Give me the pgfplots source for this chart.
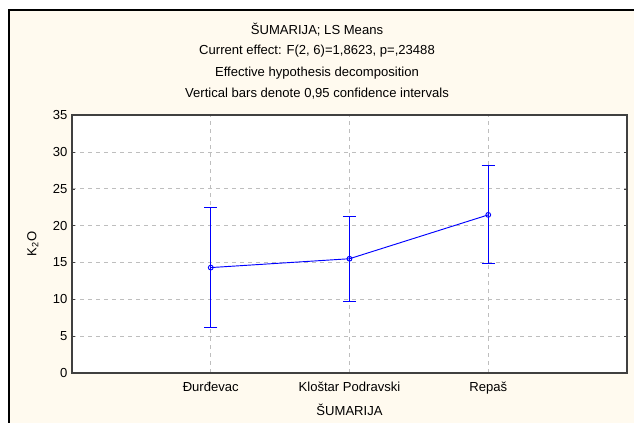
\documentclass[border=0pt]{standalone}
\usepackage{fontspec}
\setmainfont{Liberation Sans}
\usepackage{pgfplots}
\pgfplotsset{compat=1.18}
\definecolor{bgcream}{RGB}{255,250,239}
\definecolor{gridgray}{RGB}{190,190,190}

\begin{document}
\begin{tikzpicture}
% the page is 634 x 423 px, 1 px = 0.75pt, y measured from the bottom
\useasboundingbox (0pt,0pt) rectangle (475.5pt,317.25pt);
\fill[white] (0pt,0pt) rectangle (475.5pt,317.25pt);
\filldraw[fill=bgcream,draw=black,line width=1.6pt] (7pt,-15pt) rectangle (495pt,309.75pt);
\begin{scope}[font=\fontsize{9.8}{11}\selectfont]
\node at (237.75pt,294.75pt) {ŠUMARIJA; LS Means};
\node at (237.75pt,279pt) {Current effect: F(2, 6)=1,8623, p=,23488};
\node at (237.75pt,262.5pt) {Effective hypothesis decomposition};
\node at (237.75pt,246.75pt) {Vertical bars denote 0,95 confidence intervals};
\end{scope}
\begin{axis}[
    at={(54pt,37.5pt)}, anchor=south west,
    scale only axis,
    width=416.25pt, height=193.5pt,
    axis background/.style={fill=white},
    axis line style={black!75, line width=0.9pt},
    xmin=0, xmax=4, ymin=0, ymax=35,
    xtick={1,2,3},
    xticklabels={Đurđevac, Kloštar Podravski, Repaš},
    ytick={0,5,...,35},
    grid=major,
    major grid style={gridgray, dashed, line width=0.4pt},
    tick align=inside,
    major tick length=2pt,
    tick style={black!75},
    x tick style={draw=none},
    ticklabel style={font=\fontsize{9.8}{11}\selectfont},
    xticklabel style={yshift=-3pt},
    /pgf/number format/assume math mode=true,
    xlabel={ŠUMARIJA},
    ylabel={K\textsubscript{2}O},
    label style={font=\fontsize{9.8}{11}\selectfont},
    xlabel style={yshift=-1pt},
    ylabel style={yshift=4pt},
    clip=false,
]
\addplot[blue, line width=0.7pt,
    mark=o, mark size=1.8pt, mark options={fill=white, solid},
    error bars/.cd, y dir=both, y explicit,
    error bar style={blue, line width=0.7pt},
    error mark options={rotate=90, mark size=5pt, blue, line width=0.7pt}]
  coordinates {
    (1, 14.3) +- (0, 8.1)
    (2, 15.5) +- (0, 5.75)
    (3, 21.45) +- (0, 6.65)
  };
\end{axis}
\end{tikzpicture}
\end{document}
